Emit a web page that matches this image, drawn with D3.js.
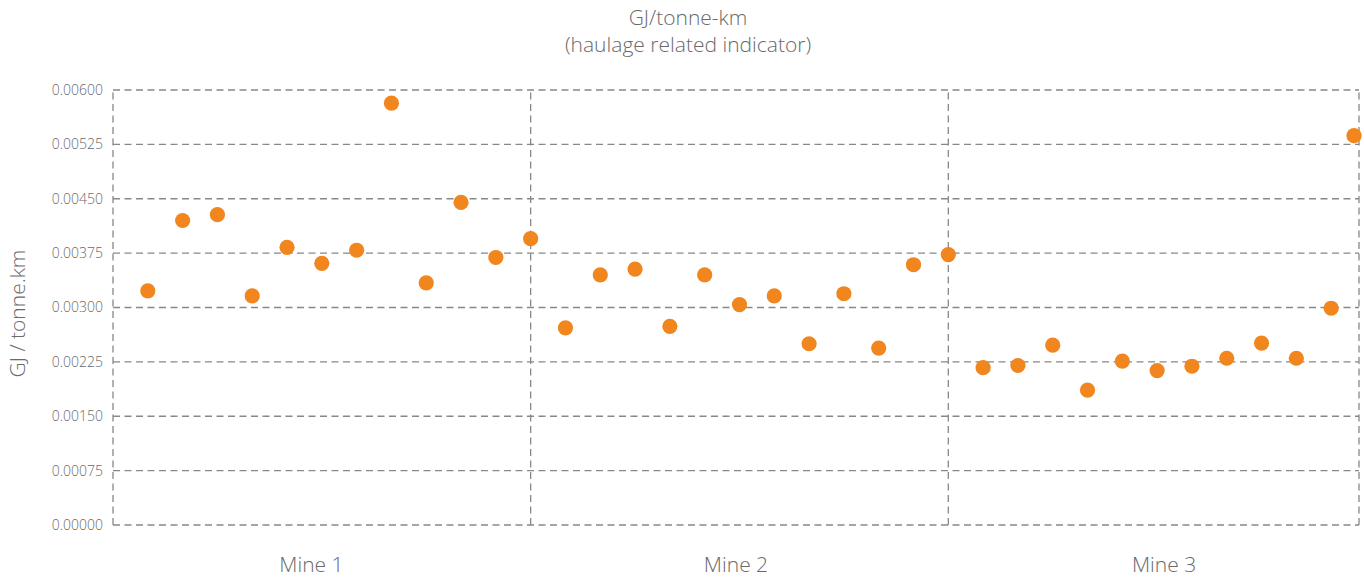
<!DOCTYPE html>
<html>
<head>
<meta charset="utf-8">
<script src="https://cdn.jsdelivr.net/npm/d3@7"></script>
<style>
  body { margin: 0; background: #fff; }
  text { font-family: "Open Sans", Lato, sans-serif; font-weight: 300; fill: #6a6a6a; }
</style>
</head>
<body>
<svg id="chart"></svg>
<script>
// values, 12 readings per mine
var mines = ["Mine 1", "Mine 2", "Mine 3"];
var mine1 = [0.00323, 0.00420, 0.00428, 0.00316, 0.00383, 0.00361, 0.00379, 0.00582, 0.00334, 0.00445, 0.00369, 0.00395];
var mine2 = [0.00272, 0.00345, 0.00353, 0.00274, 0.00345, 0.00304, 0.00316, 0.00250, 0.00319, 0.00244, 0.00359, 0.00373];
var mine3 = [0.00217, 0.00220, 0.00248, 0.00186, 0.00226, 0.00213, 0.00219, 0.00230, 0.00251, 0.00230, 0.00299, 0.00537];
var yTicks = [0, 0.00075, 0.0015, 0.00225, 0.003, 0.00375, 0.0045, 0.00525, 0.006];
// where each mine's name sits, in reading-index units
var mineLabelAt = [4.7, 16.9, 29.2];

var screen = {width: 1364, height: 579};
var margin = {top: 90, right: 5, bottom: 54, left: 113};

var svg = d3.select("#chart")
    .attr("width", screen.width)
    .attr("height", screen.height);

// flatten the three mines into one running sequence
var points = [];
[mine1, mine2, mine3].forEach(function(series, m){
    series.forEach(function(v, i){
        points.push({mine: m, idx: m * 12 + i, value: v});
    });
});

var xScale = d3.scaleLinear()
    .domain([-1, 34.8])
    .range([margin.left, screen.width - margin.right]);

var yScale = d3.scaleLinear()
    .domain([0, 0.006])
    .range([screen.height - margin.bottom, margin.top]);

var gridColor = "#888";
var dash = "7,4.5";

// horizontal grid
svg.append("g")
    .selectAll("line")
    .data(yTicks)
    .enter()
    .append("line")
    .attr("x1", xScale.range()[0])
    .attr("x2", xScale.range()[1])
    .attr("y1", function(d){ return yScale(d); })
    .attr("y2", function(d){ return yScale(d); })
    .attr("stroke", gridColor)
    .attr("stroke-width", 1.3)
    .attr("stroke-dasharray", dash);

// vertical separators between mines
var separators = [-1, 11, 23, 34.8];
svg.append("g")
    .selectAll("line")
    .data(separators)
    .enter()
    .append("line")
    .attr("x1", function(d){ return xScale(d); })
    .attr("x2", function(d){ return xScale(d); })
    .attr("y1", yScale(0))
    .attr("y2", yScale(0.006))
    .attr("stroke", gridColor)
    .attr("stroke-width", 1.3)
    .attr("stroke-dasharray", dash);

// y axis labels
var yAxis = d3.axisLeft(yScale)
    .tickValues(yTicks)
    .tickFormat(d3.format(".5f"))
    .tickSize(0)
    .tickPadding(10);

var yG = svg.append("g")
    .attr("transform", "translate(" + margin.left + ",0)")
    .call(yAxis);
yG.select(".domain").remove();
yG.attr("font-family", null);
yG.selectAll("text")
    .style("font-size", "14px")
    .attr("fill", "#6a6a6a");

// mine names
svg.append("g")
    .selectAll("text")
    .data(mines)
    .enter()
    .append("text")
    .attr("x", function(d, i){ return xScale(mineLabelAt[i]); })
    .attr("y", 572)
    .attr("text-anchor", "middle")
    .style("font-size", "21px")
    .text(function(d){ return d; });

// points
var xMax = xScale.range()[1];
svg.append("g")
    .selectAll("circle")
    .data(points)
    .enter()
    .append("circle")
    .attr("cx", function(d){ return Math.min(xScale(d.idx), xMax - 5); })
    .attr("cy", function(d){ return yScale(d.value); })
    .attr("r", 7.6)
    .attr("fill", "#f0861d");

// titles
svg.append("text")
    .attr("x", 688)
    .attr("y", 25)
    .attr("text-anchor", "middle")
    .style("font-size", "21px")
    .text("GJ/tonne-km");
svg.append("text")
    .attr("x", 688)
    .attr("y", 52)
    .attr("text-anchor", "middle")
    .style("font-size", "21px")
    .text("(haulage related indicator)");

svg.append("text")
    .attr("transform", "translate(25," + (yScale(0.003) + 6) + ") rotate(-90)")
    .attr("text-anchor", "middle")
    .style("font-size", "21px")
    .text("GJ / tonne.km");
</script>
</body>
</html>
